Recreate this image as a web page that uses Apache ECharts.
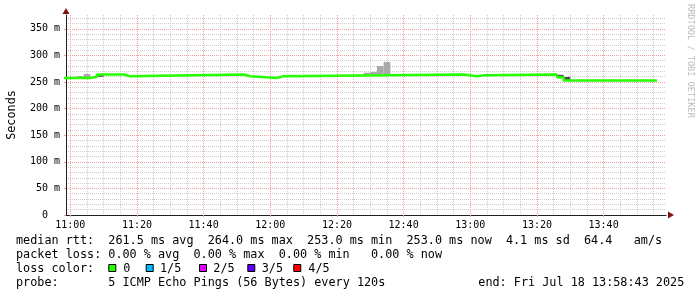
<!DOCTYPE html>
<html><head><meta charset="utf-8">
<script src="https://cdn.jsdelivr.net/npm/echarts@6/dist/echarts.min.js"></script>
<style>html,body{margin:0;padding:0;background:#fff}#c{width:697px;height:297px}</style>
</head><body><div id="c"></div>
<script>
// ---------- data ----------
const rangeStart = '10:58:43';
const rangeEnd = '13:58:43';
const yMaxMs = 376;
// median rtt (ms), each value holds from its time until the next time
const medianTimes  = ['10:58','11:06','11:08','11:16','11:18','11:52','11:54','12:02','12:04','12:58','13:02','13:04','13:26','13:28','13:56'];
const medianValues = [257.5, 260, 264, 261, 264, 261, 257.5, 261, 264, 261, 262.5, 264, 259, 253, 253];
// smoke (spread of pings), light shade
const smokeLightStart = ['11:02','11:04','12:28','12:30','12:32','12:34'];
const smokeLightEnd   = ['11:04','11:06','12:30','12:32','12:34','12:36'];
const smokeLightLow   = [257.5, 258, 262, 262, 262, 262];
const smokeLightHigh  = [261, 265, 267.5, 269, 280, 287.5];
// smoke, dark shade
const smokeDarkStart = ['11:08','13:26','13:28'];
const smokeDarkEnd   = ['11:10','13:28','13:30'];
const smokeDarkLow   = [260, 259, 253];
const smokeDarkHigh  = [264, 263.5, 259.5];
// tick labels
const yTickLabelValues = [0, 50, 100, 150, 200, 250, 300, 350];
const yAxisTitle = 'Seconds';
// legend texts
const rttLine = ['median rtt:', '261.5 ms avg', '264.0 ms max', '253.0 ms min', '253.0 ms now', '4.1 ms sd', '64.4', 'am/s'];
const lossLine = ['packet loss:', '0.00 % avg', '0.00 % max', '0.00 % min', '0.00 % now'];
const lossColorTitle = 'loss color:';
const lossColorNames = ['0', '1/5', '2/5', '3/5', '4/5'];
const lossColors = ['#26ff00', '#00b8ff', '#dd00ff', '#5e00ff', '#ff0000'];
const probeLine = ['probe:', '5 ICMP Echo Pings (56 Bytes) every 120s'];
const endLine = 'end: Fri Jul 18 13:58:43 2025';
const watermark = 'RRDTOOL / TOBI OETIKER';

// ---------- helpers ----------
function toMin(s){ const p = s.split(':').map(Number); return (p[0]-11)*60 + p[1] + (p[2]||0)/60; }
const XMIN = toMin(rangeStart), XMAX = toMin(rangeEnd);
const MONO = 'DejaVu Sans Mono';
function fmtTime(v){
  if (Math.abs(v - Math.round(v)) > 1e-6) return '';
  v = Math.round(v);
  if (v % 20 !== 0) return '';
  const h = 11 + Math.floor(v/60), m = ((v%60)+60)%60;
  return h + ':' + (m<10?'0':'') + m;
}
function fmtY(v){
  if (!yTickLabelValues.includes(v)) return '';
  return v === 0 ? '0  ' : v + ' m';
}

const medianData = medianTimes.map((t,i)=>[toMin(t), medianValues[i]]);
const lightData = smokeLightStart.map((t,i)=>[toMin(t), toMin(smokeLightEnd[i]), smokeLightLow[i], smokeLightHigh[i]]);
const darkData = smokeDarkStart.map((t,i)=>[toMin(t), toMin(smokeDarkEnd[i]), smokeDarkLow[i], smokeDarkHigh[i]]);

function rectRenderer(color){
  return function(params, api){
    const p0 = api.coord([api.value(0), api.value(3)]);
    const p1 = api.coord([api.value(1), api.value(2)]);
    return {type:'rect', shape:{x:p0[0], y:p0[1], width:p1[0]-p0[0], height:p1[1]-p0[1]}, style:{fill:color}};
  };
}

// ---------- layout of legend (monospace columns) ----------
const CH = 7.1, X0 = 16;
const rttCols = [0, 13, 27, 41, 55, 69, 80, 87];
const lossCols = [0, 13, 25, 37, 50];
const probeCols = [0, 13];
const boxX = [108.3, 145.7, 199, 247.3, 293.3];
const boxNameX = [123.3, 160, 213.3, 261.7, 308.3];
const endX = 478.3;
const lineY = [241, 255, 269, 283];
const FONT = '11.8px "'+MONO+'"';

const graphics = [];
function txt(s, x, y){
  graphics.push({type:'text', x:x, y:y, style:{text:s, font:FONT, fill:'#000', align:'left', verticalAlign:'middle'}, z:10});
}
rttLine.forEach((s,i)=>txt(s, X0 + rttCols[i]*CH, lineY[0]));
lossLine.forEach((s,i)=>txt(s, X0 + lossCols[i]*CH, lineY[1]));
txt(lossColorTitle, X0, lineY[2]);
lossColorNames.forEach((s,i)=>{
  graphics.push({type:'rect', x:boxX[i]+0.5, y:264.5, shape:{x:0,y:0,width:7,height:7}, style:{fill:lossColors[i], stroke:'#000', lineWidth:1}, z:10});
  txt(s, boxNameX[i], lineY[2]);
});
probeLine.forEach((s,i)=>txt(s, X0 + probeCols[i]*CH, lineY[3]));
txt(endLine, endX, lineY[3]);
graphics.push({type:'text', x:690, y:4, rotation:-Math.PI/2, style:{text:watermark, font:'8.6px "'+MONO+'"', fill:'#bdbdbd', align:'left', verticalAlign:'middle'}, z:10});

const minorColor = '#cdcdcd';
const majorColor = '#eca0a0';
const arrowColor = '#801010';
const axisColor = '#202020';

const option = {
  animation:false,
  backgroundColor:'#fff',
  grid:{left:66, top:15, width:600, height:200, containLabel:false, outerBoundsMode:'none'},
  xAxis:[
    {type:'value', position:'bottom', min:XMIN, max:XMAX, minInterval:20, maxInterval:20,
     axisLine:{show:true, onZero:false, lineStyle:{color:axisColor, width:1}},
     axisTick:{show:true, length:2, lineStyle:{color:majorColor}},
     minorTick:{show:false, splitNumber:4},
     axisLabel:{show:true, formatter:fmtTime, showMinLabel:false, showMaxLabel:false, fontFamily:MONO, fontSize:10, color:'#000', margin:5},
     splitLine:{show:true, showMinLine:false, showMaxLine:false, lineStyle:{color:majorColor, type:[1,1], width:1}},
     minorSplitLine:{show:true, lineStyle:{color:minorColor, type:[1,1], width:1}}},
    {type:'value', position:'bottom', min:XMIN, max:XMAX, minInterval:20, maxInterval:20,
     axisLine:{show:true, onZero:false, symbol:['none','triangle'], symbolSize:[7,6], symbolOffset:[0,5], lineStyle:{color:arrowColor, width:0}},
     axisTick:{show:false}, axisLabel:{show:false}, splitLine:{show:false}}
  ],
  yAxis:[
    {type:'value', position:'left', min:0, max:yMaxMs, interval:50,
     name:yAxisTitle, nameLocation:'middle', nameGap:48, nameTextStyle:{fontFamily:MONO, fontSize:11.8, color:'#000'},
     axisLine:{show:true, onZero:false, lineStyle:{color:axisColor, width:1}},
     axisTick:{show:true, length:2, lineStyle:{color:majorColor}},
     minorTick:{show:false, splitNumber:5},
     axisLabel:{show:true, formatter:fmtY, showMaxLabel:false, fontFamily:MONO, fontSize:10, color:'#000', margin:6},
     splitLine:{show:true, showMinLine:false, showMaxLine:false, lineStyle:{color:majorColor, type:[1,1], width:1}},
     minorSplitLine:{show:true, lineStyle:{color:minorColor, type:[1,1], width:1}}},
    {type:'value', position:'left', min:0, max:yMaxMs, interval:50,
     axisLine:{show:true, onZero:false, symbol:['none','triangle'], symbolSize:[7,6], symbolOffset:[0,4], lineStyle:{color:arrowColor, width:0}},
     axisTick:{show:false}, axisLabel:{show:false}, splitLine:{show:false}}
  ],
  series:[
    {type:'custom', name:'smoke', xAxisIndex:0, yAxisIndex:0, renderItem:rectRenderer('#a8a8a8'), encode:{x:[0,1], y:[2,3]}, data:lightData, z:2, clip:true},
    {type:'custom', name:'smokeDark', xAxisIndex:0, yAxisIndex:0, renderItem:rectRenderer('#4a4a4a'), encode:{x:[0,1], y:[2,3]}, data:darkData, z:2, clip:true},
    {type:'line', name:'median rtt', xAxisIndex:0, yAxisIndex:0, step:'end', data:medianData, symbol:'none', clip:true,
     lineStyle:{color:lossColors[0], width:2.5}, z:3}
  ],
  graphic:graphics
};
const chart = echarts.init(document.getElementById('c'), null, {renderer:'canvas'});
chart.setOption(option);
</script>
</body></html>
